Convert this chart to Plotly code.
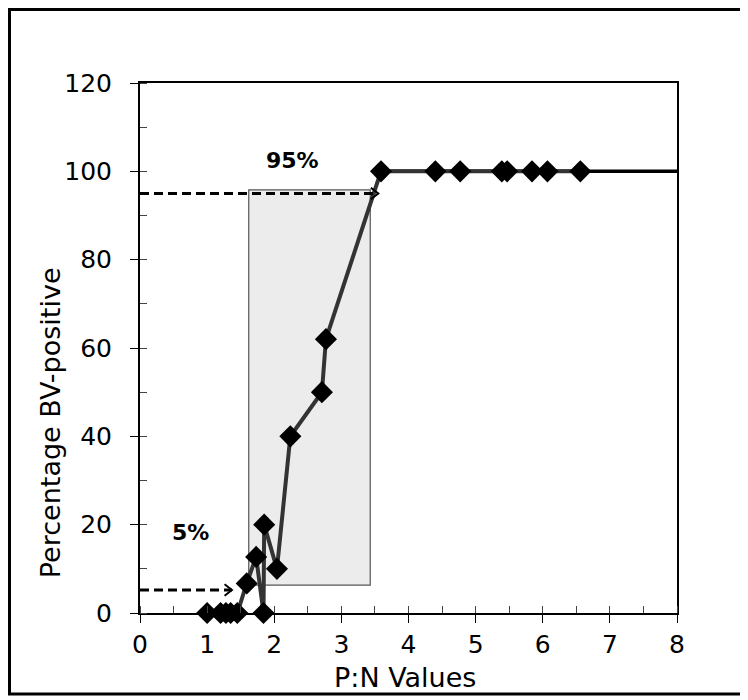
import plotly.graph_objects as go

# Data
pn_values = [1.0, 1.2, 1.28, 1.35, 1.45, 1.59, 1.73, 1.84, 1.85, 2.04, 2.24, 2.71, 2.77,
             3.59, 4.40, 4.77, 5.39, 5.47, 5.84, 6.07, 6.56]
pct_positive = [0, 0, 0, 0, 0, 6.7, 12.7, 0, 20, 10, 40, 50, 62,
                100, 100, 100, 100, 100, 100, 100, 100]
plateau_x = [3.59, 8.0]
plateau_y = [100, 100]

x_ticks = [0, 1, 2, 3, 4, 5, 6, 7, 8]
y_ticks = [0, 20, 40, 60, 80, 100, 120]

box_x = [1.62, 3.43]
box_y = [6.3, 95.8]
arrow_hi = dict(x0=0, x1=3.55, y=95)
arrow_lo = dict(x0=0, x1=1.37, y=5.2)
labels = [("95%", 2.27, 102.5), ("5%", 0.75, 18.3)]

FONT = "DejaVu Sans"

fig = go.Figure()

# shaded range box
fig.add_shape(type="rect", x0=box_x[0], x1=box_x[1], y0=box_y[0], y1=box_y[1],
              xref="x", yref="y", fillcolor="#ececec",
              line=dict(color="#555555", width=1.2), layer="below")

# dashed arrows
for a in (arrow_hi, arrow_lo):
    fig.add_shape(type="line", x0=a["x0"], x1=a["x1"], y0=a["y"], y1=a["y"],
                  xref="x", yref="y",
                  line=dict(color="black", width=3, dash="9px,5px"))
    fig.add_shape(type="path",
                  path=f"M {a['x1']-0.11},{a['y']+1.3} L {a['x1']},{a['y']} L {a['x1']-0.11},{a['y']-1.3}",
                  xref="x", yref="y", line=dict(color="black", width=2))

fig.add_trace(go.Scatter(x=plateau_x, y=plateau_y, mode="lines",
                         line=dict(color="black", width=3.5), showlegend=False,
                         hoverinfo="skip"))
fig.add_trace(go.Scatter(x=pn_values, y=pct_positive, mode="lines+markers",
                         line=dict(color="#333333", width=4),
                         marker=dict(symbol="diamond", size=17, color="black",
                                     line=dict(width=0)),
                         showlegend=False, cliponaxis=False))

for txt, xx, yy in labels:
    fig.add_annotation(x=xx, y=yy, text=f"<b>{txt}</b>", showarrow=False,
                       font=dict(family=FONT, size=22, color="black"))

# axis titles
fig.add_annotation(xref="paper", yref="paper", x=0.4935, y=-0.1226,
                   text="P:N Values", showarrow=False,
                   xanchor="center", yanchor="middle",
                   font=dict(family=FONT, size=27, color="black"))
fig.add_annotation(xref="paper", yref="paper", x=-0.1676, y=0.36,
                   text="Percentage BV-positive", showarrow=False, textangle=-90,
                   xanchor="center", yanchor="middle",
                   font=dict(family=FONT, size=27, color="black"))

# outer frame
fig.add_shape(type="rect", xref="paper", yref="paper",
              x0=-0.243, x1=1.123, y0=-0.1528, y1=1.1387,
              line=dict(color="black", width=3), fillcolor="rgba(0,0,0,0)")

axis_common = dict(showline=True, linecolor="black", linewidth=2, mirror=True,
                   showgrid=False, zeroline=False, ticks="outside", ticklen=8,
                   tickcolor="black", tickwidth=1,
                   tickfont=dict(family=FONT, size=25, color="black"))

fig.update_xaxes(range=[0, 8], tickvals=x_ticks, ticktext=[str(v) for v in x_ticks],
                 minor=dict(ticks="inside", dtick=0.5, ticklen=7, tickcolor="#444", tickwidth=1),
                 ticklabelstandoff=0,
                 **axis_common)
fig.update_yaxes(range=[0, 120], tickvals=y_ticks, ticktext=[str(v) for v in y_ticks],
                 minor=dict(ticks="inside", dtick=10, ticklen=7, tickcolor="#444", tickwidth=1),
                 ticklabelstandoff=13,
                 **axis_common)

fig.update_layout(width=748, height=700, plot_bgcolor="white", paper_bgcolor="white",
                  margin=dict(l=132, r=79, t=75, b=95, autoexpand=False))

fig.write_html("out.html")
